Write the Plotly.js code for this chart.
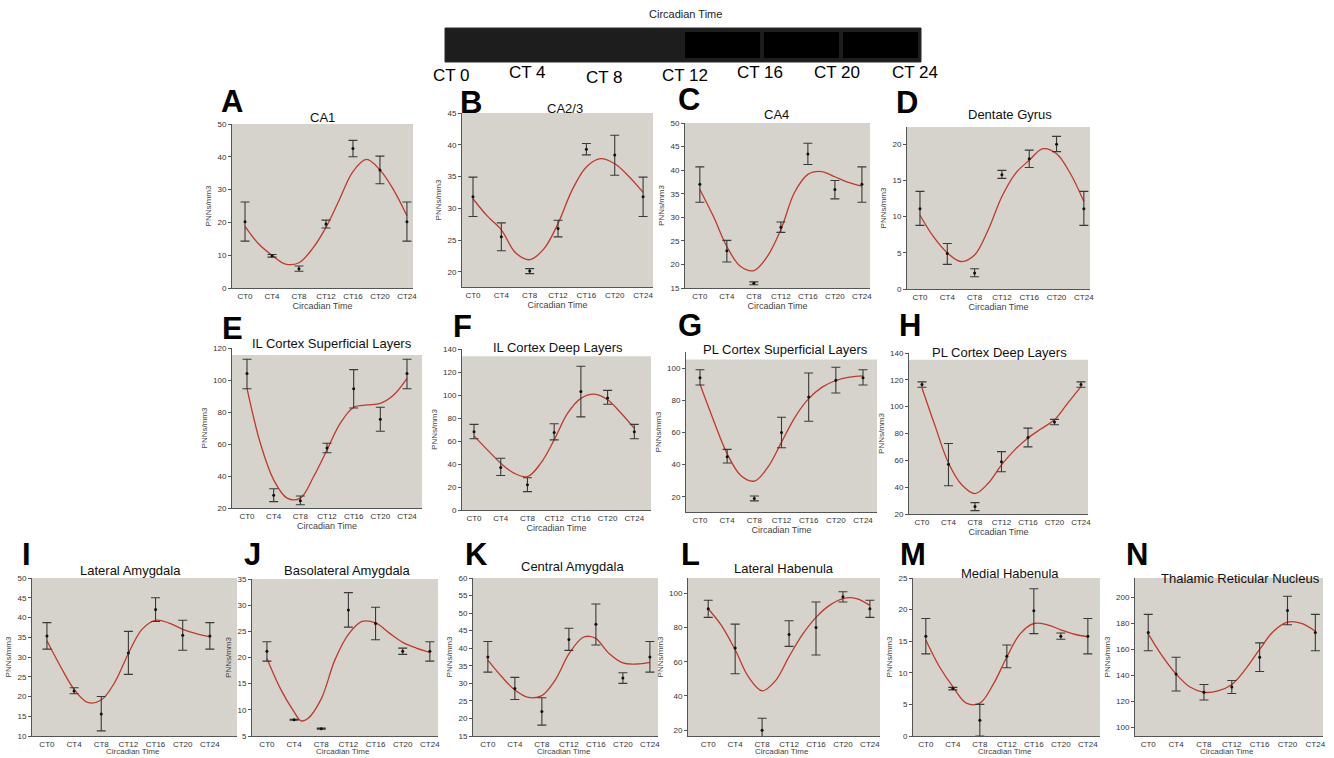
<!DOCTYPE html>
<html><head><meta charset="utf-8">
<script src="https://cdn.plot.ly/plotly-3.0.1.min.js"></script>
<style>html,body{margin:0;padding:0;background:#fff}#chart{width:1334px;height:758px}</style>
</head><body><div id="chart"></div>
<script>
// ---------- DATA ----------
const ctHours = [0, 4, 8, 12, 16, 20, 24];
const ctTickLabels = ['CT0', 'CT4', 'CT8', 'CT12', 'CT16', 'CT20', 'CT24'];
const topBarLabels = ['CT 0', 'CT 4', 'CT 8', 'CT 12', 'CT 16', 'CT 20', 'CT 24'];
const fitHours = [0, 2, 4, 6, 8, 10, 12, 14, 16, 18, 20, 22, 24];

// A CA1
const ca1Mean  = [20.2, 9.8, 5.9, 19.5, 42.5, 36.0, 20.2];
const ca1Upper = [26.2, 10.2, 6.7, 20.7, 45.0, 40.2, 26.2];
const ca1Lower = [14.3, 9.4, 5.1, 18.3, 40.0, 31.8, 14.3];
const ca1Fit   = [18.8, 13.5, 10.0, 7.3, 7.7, 12.0, 18.5, 27.0, 35.5, 39.2, 36.0, 30.0, 22.0];
// B CA2/3
const ca23Mean  = [31.8, 25.5, 20.1, 26.8, 39.3, 38.4, 31.8];
const ca23Upper = [34.9, 27.7, 20.5, 28.1, 40.2, 41.5, 34.9];
const ca23Lower = [28.7, 23.3, 19.7, 25.5, 38.4, 35.2, 28.7];
const ca23Fit   = [31.5, 28.8, 26.6, 23.0, 21.9, 23.6, 27.6, 32.9, 36.5, 37.8, 37.0, 35.0, 32.5];
// C CA4
const ca4Mean  = [37.0, 22.9, 16.0, 27.9, 43.4, 35.9, 37.0];
const ca4Upper = [40.7, 25.1, 16.3, 29.0, 45.7, 37.8, 40.7];
const ca4Lower = [33.2, 20.5, 15.7, 26.8, 41.2, 33.9, 33.2];
const ca4Fit   = [35.9, 30.2, 23.8, 19.6, 18.7, 21.7, 27.4, 35.2, 39.1, 39.7, 38.6, 37.4, 36.6];
// D Dentate Gyrus
const dgMean  = [11.1, 4.9, 2.2, 15.8, 18.0, 20.0, 11.1];
const dgUpper = [13.5, 6.3, 2.8, 16.4, 19.2, 21.1, 13.5];
const dgLower = [8.8, 3.4, 1.7, 15.3, 16.8, 19.0, 8.8];
const dgFit   = [10.2, 7.2, 5.0, 3.8, 4.7, 8.2, 12.8, 16.0, 17.8, 19.4, 18.7, 16.0, 12.1];
// E IL Cortex Superficial Layers
const ilSupMean  = [104, 28, 24.5, 57.5, 94.5, 75.5, 104];
const ilSupUpper = [113, 32, 27.5, 60.5, 106.5, 83, 113];
const ilSupLower = [94.5, 24, 22, 54.5, 82.5, 68, 94.5];
const ilSupFit   = [94.8, 60.5, 37.6, 26.2, 26.2, 39.7, 56.3, 73.0, 83.0, 84.4, 85.4, 90.6, 101];
// F IL Cortex Deep Layers
const ilDeepMean  = [68, 37, 22, 67.5, 103, 97.5, 68];
const ilDeepUpper = [74.5, 45, 28, 75, 125, 104, 74.5];
const ilDeepLower = [62, 30, 16, 61, 81, 92, 62];
const ilDeepFit   = [64.5, 52.3, 40.7, 32.0, 29.0, 40.7, 61.0, 84.0, 97.1, 100.8, 95.9, 84.3, 71.0];
// G PL Cortex Superficial Layers
const plSupMean  = [94, 45, 19, 60, 82, 92.5, 94];
const plSupUpper = [99, 49.5, 20.5, 69.5, 97, 100.5, 99];
const plSupLower = [89.5, 41, 17.5, 50.5, 67, 84.5, 89.5];
const plSupFit   = [89.9, 67.5, 46.8, 33.3, 29.8, 38.5, 54.0, 69.6, 81.0, 88.2, 92.3, 94.4, 95.2];
// H PL Cortex Deep Layers
const plDeepMean  = [116.5, 57, 25.5, 59, 77, 88.5, 116.5];
const plDeepUpper = [118.5, 72.5, 28.5, 66.5, 84, 90.5, 118.5];
const plDeepLower = [114.5, 41, 22.5, 51.5, 70, 86.5, 114.5];
const plDeepFit   = [113.9, 85.3, 58.0, 41.8, 35.2, 42.9, 56.6, 67.8, 76.6, 83.5, 90.2, 102.7, 115];
// I Lateral Amygdala
const laMean  = [35.3, 21.4, 15.6, 31.0, 42.0, 35.5, 35.3];
const laUpper = [38.7, 22.2, 20.0, 36.5, 45.0, 39.3, 38.7];
const laLower = [32.0, 20.7, 11.3, 25.6, 39.0, 31.7, 32.0];
const laFit   = [34.1, 27.6, 21.8, 18.5, 19.1, 23.6, 30.9, 37.0, 39.3, 38.6, 37.0, 35.9, 35.1];
// J Basolateral Amygdala
const blaHours = [0, 2, 4, 5, 6, 8, 10, 12, 14, 16, 18, 20, 22, 24];
const blaMean  = [21.2, 8.1, 6.4, 29.1, 26.5, 21.2, 21.2];
const blaUpper = [23.0, 8.2, 6.5, 32.4, 29.6, 21.8, 23.0];
const blaLower = [19.3, 8.0, 6.3, 25.8, 23.4, 20.6, 19.3];
const blaFit   = [19.8, 14.0, 9.6, 7.9, 8.3, 12.1, 19.5, 24.4, 26.9, 26.6, 24.7, 22.9, 21.8, 21.0];
// K Central Amygdala
const ceaHours = [0, 2, 4, 6, 8, 10, 12, 14, 15, 16, 18, 20, 22, 24];
const ceaMean  = [37.5, 28.5, 22.0, 42.5, 46.8, 31.5, 37.5];
const ceaUpper = [41.9, 31.7, 25.9, 45.7, 52.6, 33.0, 41.9];
const ceaLower = [33.2, 25.4, 18.1, 39.4, 40.9, 30.0, 33.2];
const ceaFit   = [36.6, 32.0, 28.1, 26.0, 26.5, 31.0, 38.4, 43.0, 43.4, 42.8, 38.4, 35.8, 35.5, 36.0];
// L Lateral Habenula
const lhbMean  = [91, 68, 20, 76, 80, 98, 91];
const lhbUpper = [96, 82, 27, 84, 95, 101, 96];
const lhbLower = [86, 53, 13, 69, 64, 95, 86];
const lhbFit   = [91, 81, 67, 51, 43, 49, 63, 76, 86, 93, 97, 97, 93];
// M Medial Habenula
const mhbMean  = [15.8, 7.5, 2.5, 12.6, 19.8, 15.8, 15.8];
const mhbUpper = [18.6, 7.7, 5.0, 14.4, 23.3, 16.3, 18.6];
const mhbLower = [13.0, 7.3, 0.0, 10.8, 16.2, 15.3, 13.0];
const mhbFit   = [15.2, 11.0, 7.8, 5.2, 5.2, 8.2, 12.5, 16.2, 17.8, 17.6, 16.8, 16.1, 15.7];
// N Thalamic Reticular Nucleus
const trnMean  = [173, 141, 127, 131, 154, 190, 173];
const trnUpper = [187, 154, 133, 136, 165, 201, 187];
const trnLower = [159, 128, 121, 126, 143, 179, 159];
const trnFit   = [172, 155, 141, 131, 127, 128, 133, 145, 160, 174, 181, 180, 174];

// ---------- PANEL LAYOUT (pixels) ----------
const W = 1334, H = 758;
const panels = [
  {L:'A', t:'CA1', m:ca1Mean, u:ca1Upper, lo:ca1Lower, fx:fitHours, fy:ca1Fit,
   px:[232,413], py:[124,288], xr:[-1.93,24.9], yr:[0,50], gray:50, dt:10, lp:[232,101], tp:[322,117]},
  {L:'B', t:'CA2/3', m:ca23Mean, u:ca23Upper, lo:ca23Lower, fx:fitHours, fy:ca23Fit,
   px:[462,653], py:[113,287], xr:[-1.55,25.4], yr:[17.6,45], gray:45, dt:5, lp:[471,103], tp:[565,108]},
  {L:'C', t:'CA4', m:ca4Mean, u:ca4Upper, lo:ca4Lower, fx:fitHours, fy:ca4Fit,
   px:[685,870], py:[123,288], xr:[-2.2,25.2], yr:[15,50], gray:50, dt:5, lp:[689,100], tp:[776,115]},
  {L:'D', t:'Dentate Gyrus', m:dgMean, u:dgUpper, lo:dgLower, fx:fitHours, fy:dgFit,
   px:[907,1090], py:[127,289], xr:[-1.9,24.9], yr:[0,22.4], gray:22.4, dt:5, lp:[907,102], tp:[1010,115]},
  {L:'E', t:'IL Cortex Superficial Layers', m:ilSupMean, u:ilSupUpper, lo:ilSupLower, fx:fitHours, fy:ilSupFit,
   px:[232,422], py:[348,508], xr:[-2.25,26.25], yr:[20,120], gray:115.6, dt:20, lp:[232,328], tp:[332,343]},
  {L:'F', t:'IL Cortex Deep Layers', m:ilDeepMean, u:ilDeepUpper, lo:ilDeepLower, fx:fitHours, fy:ilDeepFit,
   px:[462,651], py:[349,510], xr:[-1.8,26.5], yr:[0,140], gray:133.6, dt:20, lp:[462,327], tp:[558,347]},
  {L:'G', t:'PL Cortex Superficial Layers', m:plSupMean, u:plSupUpper, lo:plSupLower, fx:fitHours, fy:plSupFit,
   px:[686,877], py:[352,512], xr:[-2.06,26.06], yr:[10.6,110], gray:105.4, dt:20, lp:[690,326], tp:[785,350]},
  {L:'H', t:'PL Cortex Deep Layers', m:plDeepMean, u:plDeepUpper, lo:plDeepLower, fx:fitHours, fy:plDeepFit,
   px:[909,1088], py:[353,514], xr:[-1.96,25.06], yr:[20,140], gray:135, dt:20, lp:[910,326], tp:[1000,352]},
  {L:'I', t:'Lateral Amygdala', m:laMean, u:laUpper, lo:laLower, fx:fitHours, fy:laFit,
   px:[32,237], py:[578,736], xr:[-2.2,28], yr:[10,50], gray:50, dt:5, lp:[26,554], tp:[130,570], bottom:true},
  {L:'J', t:'Basolateral Amygdala', m:blaMean, u:blaUpper, lo:blaLower, fx:blaHours, fy:blaFit,
   px:[252,438], py:[579,736], xr:[-2.2,25.2], yr:[5,35], gray:35, dt:5, lp:[252,554], tp:[347,570], bottom:true},
  {L:'K', t:'Central Amygdala', m:ceaMean, u:ceaUpper, lo:ceaLower, fx:ceaHours, fy:ceaFit,
   px:[473,658], py:[578,736], xr:[-2.2,25.2], yr:[15,60], gray:60, dt:5, lp:[476,554], tp:[572,566], bottom:true},
  {L:'L', t:'Lateral Habenula', m:lhbMean, u:lhbUpper, lo:lhbLower, fx:fitHours, fy:lhbFit,
   px:[688,880], py:[578,736], xr:[-3,25.5], yr:[16.6,109], gray:109, dt:20, lp:[690,554], tp:[784,568], bottom:true},
  {L:'M', t:'Medial Habenula', m:mhbMean, u:mhbUpper, lo:mhbLower, fx:fitHours, fy:mhbFit,
   px:[913,1100], py:[578,736], xr:[-1.9,25.8], yr:[0,25], gray:25, dt:5, lp:[913,554], tp:[1010,573], bottom:true},
  {L:'N', t:'Thalamic Reticular Nucleus', m:trnMean, u:trnUpper, lo:trnLower, fx:fitHours, fy:trnFit,
   px:[1135,1323], py:[578,736], xr:[-1.9,25.1], yr:[93.3,215], gray:215, dt:20, lp:[1137,554], tp:[1240,578], bottom:true}
];

const FONT = 'Liberation Sans, Arial, Helvetica, sans-serif';
const traces = [];
const layout = {
  width: W, height: H, margin: {l:0, r:0, t:0, b:0},
  paper_bgcolor: '#ffffff', plot_bgcolor: 'rgba(0,0,0,0)',
  showlegend: false, font: {family: FONT, color: '#333'},
  shapes: [], annotations: []
};
const px2x = v => v / W, px2y = v => 1 - v / H;
function note(text, x, y, size, color, extra) {
  layout.annotations.push(Object.assign({text: text, xref: 'paper', yref: 'paper', x: px2x(x), y: px2y(y),
    showarrow: false, xanchor: 'center', yanchor: 'middle',
    font: {size: size, color: color, family: FONT}}, extra || {}));
}

panels.forEach((p, i) => {
  const n = i + 1, xs = n === 1 ? '' : String(n);
  const xa = 'x' + xs, ya = 'y' + xs;
  traces.push({
    x: p.fx, y: p.fy, xaxis: xa, yaxis: ya, type: 'scatter', mode: 'lines',
    line: {color: '#c0392b', width: 1.3, shape: 'spline', smoothing: 1.0}, hoverinfo: 'skip'
  });
  traces.push({
    x: ctHours, y: p.m, xaxis: xa, yaxis: ya, type: 'scatter', mode: 'markers',
    marker: {color: '#111', size: 3},
    error_y: {type: 'data', symmetric: false,
      array: p.u.map((v, k) => v - p.m[k]), arrayminus: p.m.map((v, k) => v - p.lo[k]),
      color: '#3a3a3a', thickness: 1.1, width: 4.5}
  });
  layout['xaxis' + xs] = {
    domain: [p.px[0] / W, p.px[1] / W], anchor: ya, range: p.xr,
    tickmode: 'array', tickvals: ctHours, ticktext: ctTickLabels,
    showline: true, linecolor: '#555', linewidth: 1, ticks: '', showgrid: false, zeroline: false,
    tickfont: {size: 8, color: '#333', family: FONT},
    title: p.bottom ? {text: ''} : {text: 'Circadian Time', font: {size: 9, color: '#444', family: FONT}, standoff: 0}
  };
  if (p.bottom) note('Circadian Time', (p.px[0] + p.px[1]) / 2 - 2, 758, 8, '#444', {yanchor: 'bottom'});
  layout['yaxis' + xs] = {
    domain: [1 - p.py[1] / H, 1 - p.py[0] / H], anchor: xa, range: p.yr,
    dtick: p.dt, tick0: 0, showline: true, linecolor: '#555', linewidth: 1,
    ticks: 'outside', ticklen: 3, tickcolor: '#555', showgrid: false, zeroline: false,
    tickfont: {size: 8, color: '#333', family: FONT},
    title: {text: 'PNNs/mm3', font: {size: 8, color: '#444', family: FONT}, standoff: 4}
  };
  layout.shapes.push({type: 'rect', layer: 'below', xref: xa + ' domain', yref: ya,
    x0: 0, x1: 1, y0: p.yr[0], y1: p.gray, fillcolor: '#d6d3cc', line: {width: 0}});
  note('<b>' + p.L + '</b>', p.lp[0], p.lp[1], 31, '#000');
  note(p.t, p.tp[0], p.tp[1], 13, '#111');
});

// ---------- TOP LIGHT/DARK BAR ----------
layout.shapes.push({type: 'rect', xref: 'paper', yref: 'paper',
  x0: px2x(445), x1: px2x(921), y0: px2y(62), y1: px2y(28), fillcolor: '#1d1d1d', line: {color: '#2a2a2a', width: 1}});
[[685, 760], [764, 839], [843, 918]].forEach(b => {
  layout.shapes.push({type: 'rect', xref: 'paper', yref: 'paper',
    x0: px2x(b[0]), x1: px2x(b[1]), y0: px2y(58), y1: px2y(32), fillcolor: '#000', line: {width: 0}});
});
note('Circadian Time', 685, 14, 11, '#222');
const barLabelX = [451, 527, 604, 685, 760, 837, 915];
const barLabelY = [75, 73, 77, 76, 72, 73, 73];
topBarLabels.forEach((t, k) => note(t, barLabelX[k], barLabelY[k], 17, '#000'));

Plotly.newPlot('chart', traces, layout, {staticPlot: true});
</script></body></html>
